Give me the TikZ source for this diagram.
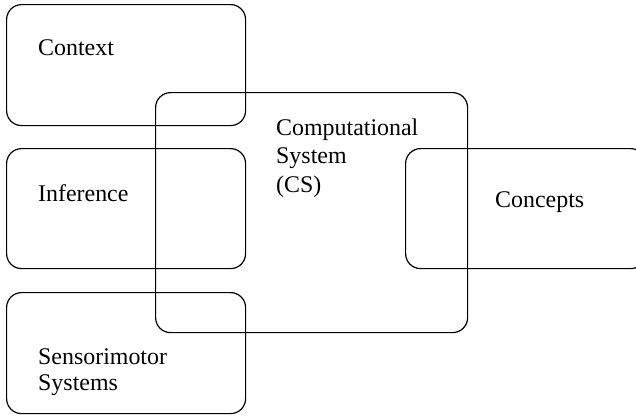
\documentclass[tikz,border=0pt]{standalone}
\usepackage{fontspec}
\setmainfont{Liberation Serif}
\usetikzlibrary{positioning}

\begin{document}
\begin{tikzpicture}[x=1bp, y=-1bp,
  font=\fontsize{24}{26}\selectfont,
  area/.style={draw, rounded corners=15bp, line width=1.2bp, inner sep=0pt, minimum width=#1},
  area/.default=239bp,
  txt/.style={anchor=base west, align=left, inner sep=0pt}]
\useasboundingbox (0,0) rectangle (636,415);
% left column of areas
\node[area, minimum height=121bp, anchor=north west] (ctx) at (6,4) {};
\node[area, minimum height=120bp, anchor=north west] (inf) at (6,148) {};
\node[area, minimum height=121bp, anchor=north west] (sen) at (6,292) {};
% central system and the concepts area on the right
\node[area=312bp, minimum height=240bp, anchor=north west] (cs) at (155,92) {};
\node[area=240bp, minimum height=120bp, anchor=north west] (con) at (405,148) {};
% labels (base anchor sits on the last line)
\node[txt] (ctxlab) at (38,55) {Context};
\node[txt] (inflab) at (38,201) {Inference};
\node[txt] (senlab) at (38,390) {Sensorimotor\\Systems};
\node[txt] (cslab) at (276,192) {Computational\\[2.5bp]System\\[2.5bp](CS)};
\node[txt] (conlab) at (495,207) {Concepts};
\end{tikzpicture}
\end{document}
